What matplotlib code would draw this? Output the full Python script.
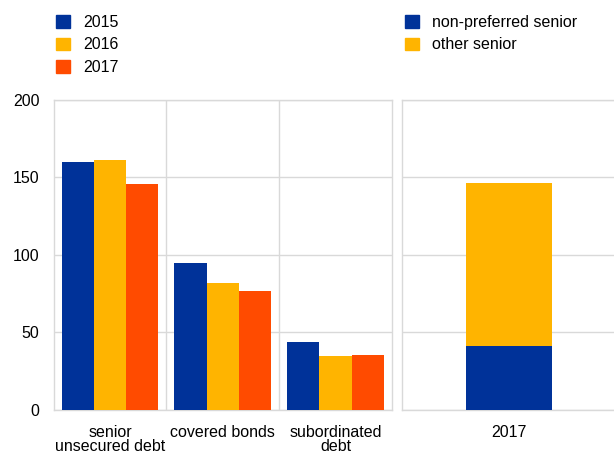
import matplotlib.pyplot as plt
from matplotlib.patches import Patch
import numpy as np

plt.rcParams['font.family'] = ['Liberation Sans', 'DejaVu Sans']

# debt issuance by instrument and year
categories = ['senior\nunsecured debt', 'covered bonds', 'subordinated\ndebt']
years = ['2015', '2016', '2017']
values = {
    '2015': [160, 94.5, 44],
    '2016': [161.5, 82, 34.7],
    '2017': [146, 77, 35.3],
}

# 2017 senior debt split
split_label = ['2017']
non_preferred = [41.5]
other_senior = [105]

year_colors = ['#003299', '#FFB400', '#FF4B00']
grid_color = '#D9D9D9'
fs = 11.5

fig = plt.figure(figsize=(6.14, 4.54), dpi=100)
ax1 = fig.add_axes([53.5 / 614, 0.0969, 338.5 / 614, 0.683])
ax2 = fig.add_axes([402 / 614, 0.0969, 214 / 614, 0.683])

x = np.arange(len(categories))
width = 0.286
for i, (year, color) in enumerate(zip(years, year_colors)):
    ax1.bar(x + (i - 1) * width, values[year], width, color=color, zorder=3)

ax1.set_xlim(-0.5, len(categories) - 0.5)
ax1.set_xticks(x)
ax1.set_xticklabels(categories, fontsize=fs, linespacing=0.94)
ax1.set_xticks(np.arange(0.5, len(categories) - 0.5, 1), minor=True)
ax1.grid(True, which='minor', axis='x', color=grid_color, lw=1, zorder=0)

ax2.bar(split_label, non_preferred, 0.4, color='#003299', zorder=3)
ax2.bar(split_label, other_senior, 0.4, bottom=non_preferred, color='#FFB400', zorder=3)
ax2.set_xlim(-0.5, 0.5)

for ax in (ax1, ax2):
    ax.set_ylim(0, 200)
    ax.set_yticks([0, 50, 100, 150, 200])
    ax.grid(True, which='major', axis='y', color=grid_color, lw=1, zorder=0)
    ax.tick_params(which='both', length=0)
    ax.tick_params(axis='y', labelsize=fs, pad=10.2)
    ax.tick_params(axis='x', labelsize=fs, pad=10.5)
    for s in ax.spines.values():
        s.set_color(grid_color)
        s.set_linewidth(1)

ax2.tick_params(axis='y', labelleft=False)

legend_kw = dict(loc='upper left', frameon=False, fontsize=fs,
                 handlelength=0.875, handleheight=0.84, handletextpad=0.8,
                 labelspacing=0.47, borderaxespad=0, borderpad=0)

year_handles = [Patch(color=c) for c in year_colors]
fig.legend(year_handles, years, bbox_to_anchor=(56 / 614, 0.967), **legend_kw)

split_handles = [Patch(color='#003299'), Patch(color='#FFB400')]
fig.legend(split_handles, ['non-preferred senior', 'other senior'],
           bbox_to_anchor=(405 / 614, 0.967), **legend_kw)

fig.savefig('out.png', dpi=100)
